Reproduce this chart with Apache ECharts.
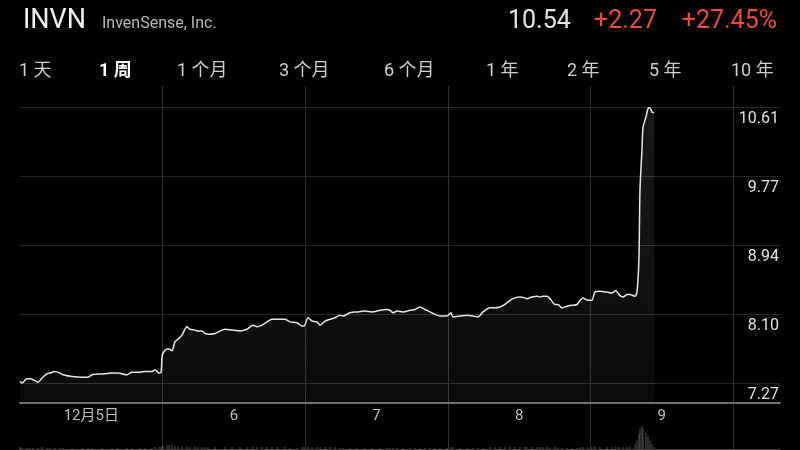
<!DOCTYPE html>
<html>
<head>
<meta charset="utf-8">
<script src="https://cdn.jsdelivr.net/npm/echarts@6/dist/echarts.min.js"></script>
<style>
html,body{margin:0;padding:0;background:#000;}
#c{width:800px;height:450px;}
</style>
</head>
<body>
<div id="c"></div>
<script>
// ---- data ----
const symbol = 'INVN';
const companyName = 'InvenSense, Inc.';
const lastPrice = '10.54';
const change = '+2.27';
const changePct = '+27.45%';
const tabs = ['1 天', '1 周', '1 个月', '3 个月', '6 个月', '1 年', '2 年', '5 年', '10 年'];
const activeTab = 1;
const dayLabels = ['12月5日', '6', '7', '8', '9'];
const yTickLabels = ['7.27', '8.10', '8.94', '9.77', '10.61'];
// time in trading days since 12/5 open
const times = [0,0.014,0.049,0.070,0.091,0.126,0.154,0.189,0.210,0.245,
0.281,0.302,0.365,0.435,0.477,0.505,0.575,0.645,0.687,0.750,
0.785,0.842,0.877,0.926,0.947,0.975,0.989,0.996,1.003,1.031,
1.045,1.066,1.087,1.108,1.136,1.171,1.192,1.227,1.248,1.276,
1.297,1.318,1.367,1.438,1.487,1.543,1.592,1.634,1.662,1.697,
1.732,1.767,1.809,1.858,1.893,1.943,1.978,1.992,2.020,2.048,
2.083,2.104,2.139,2.174,2.209,2.244,2.265,2.314,2.363,2.419,
2.468,2.525,2.574,2.595,2.616,2.644,2.686,2.735,2.770,2.805,
2.840,2.875,2.910,2.945,2.994,3.022,3.036,3.086,3.135,3.177,
3.212,3.247,3.296,3.331,3.366,3.401,3.436,3.471,3.506,3.541,
3.555,3.590,3.626,3.647,3.668,3.696,3.717,3.752,3.773,3.801,
3.836,3.871,3.906,3.927,3.948,3.983,4.011,4.032,4.067,4.116,
4.151,4.179,4.200,4.229,4.257,4.278,4.313,4.327,4.341,4.348,
4.362,4.369,4.390,4.404,4.418,4.432,4.446];
const prices = [7.29,7.27,7.32,7.32,7.31,7.28,7.33,7.38,7.39,7.41,
7.39,7.37,7.35,7.34,7.34,7.37,7.38,7.39,7.39,7.37,
7.40,7.40,7.41,7.41,7.43,7.39,7.40,7.58,7.63,7.68,
7.68,7.66,7.77,7.80,7.85,7.95,7.92,7.91,7.90,7.90,
7.87,7.86,7.87,7.92,7.91,7.90,7.92,7.97,7.95,7.97,
8.01,8.04,8.04,8.04,8.01,8.00,7.96,7.96,8.06,8.02,
8.01,7.97,8.02,8.04,8.06,8.09,8.08,8.12,8.13,8.14,
8.13,8.15,8.16,8.15,8.12,8.14,8.13,8.15,8.16,8.19,
8.16,8.13,8.10,8.08,8.08,8.12,8.07,8.08,8.09,8.08,
8.07,8.13,8.18,8.18,8.19,8.22,8.27,8.30,8.31,8.30,
8.29,8.31,8.32,8.31,8.32,8.32,8.29,8.22,8.22,8.18,
8.20,8.21,8.22,8.27,8.30,8.27,8.27,8.37,8.38,8.37,
8.36,8.39,8.34,8.31,8.34,8.34,8.32,8.37,8.79,9.61,
10.09,10.36,10.49,10.59,10.60,10.55,10.54];
const volumes = [3,2,2,2,2,2,3,2,2,2,
2,2,2,2,2,2,2,2,2,2,
2,2,2,2,3,3,3,4,5,5,
5,5,4,4,4,4,3,4,3,3,
3,3,3,3,3,3,3,3,3,3,
3,3,3,3,2,2,3,3,4,3,
3,3,3,3,3,2,2,2,2,2,
2,2,2,2,2,2,2,2,2,2,
2,2,2,2,2,3,3,2,2,2,
2,2,3,3,3,3,4,3,3,3,
3,3,3,3,3,3,2,3,2,2,
2,2,2,3,3,3,3,4,3,3,
3,3,3,3,3,4,6,10,17,22,
25,22,18,14,10,6,3];

// ---- chart ----
const FONT = 'Roboto, "Noto Sans CJK SC", "Noto Sans", sans-serif';
const X_MAX = 5.33;
const Y_MIN = 7.27, Y_STEP = 0.835, Y_MAX = 10.61;
const AREA_BASE = 7.028;

const priceData = times.map((t, i) => [t, prices[i]]);
const volData = times.map((t, i) => [t, volumes[i]]);

const tabLeft = [20, 100, 178, 280, 385, 487, 568, 650, 732];
const titles = [
  {text: symbol, left: 18, top: 3, textStyle: {color: '#f2f2f2', fontSize: 27, fontWeight: 'normal', fontFamily: FONT}},
  {text: companyName, left: 97, top: 11, textStyle: {color: '#b8b8b8', fontSize: 16, fontWeight: 'normal', fontFamily: FONT}},
  {text: lastPrice, left: 503, top: 4, textStyle: {color: '#e6e6e6', fontSize: 25, fontWeight: 'normal', fontFamily: FONT}},
  {text: change, left: 589, top: 4, textStyle: {color: '#ef4a3f', fontSize: 25, fontWeight: 'normal', fontFamily: FONT}},
  {text: changePct, right: 18, top: 4, textStyle: {color: '#ef4a3f', fontSize: 25, fontWeight: 'normal', fontFamily: FONT}}
];
tabs.forEach((t, i) => {
  titles.push({text: t, left: tabLeft[i] - 1, top: 63, padding: [0,0,0,0],
    textStyle: {color: i === activeTab ? '#ffffff' : '#cfcfcf', fontSize: 18,
      fontWeight: i === activeTab ? 'bold' : 'normal', fontFamily: FONT}});
});

const hidden = {show: false};
const option = {
  backgroundColor: '#000',
  animation: false,
  title: titles,
  grid: [
    {left: 20, right: 20, top: 107, height: 276},   // price
    {left: 20, right: 20, top: 86, height: 364},    // frame + vertical lines
    {left: 20, right: 20, top: 383, height: 20},    // bottom axis line
    {left: 20, width: 713, top: 383, height: 20},   // day labels
    {left: 20, right: 20, top: 425, height: 25}     // volume
  ],
  xAxis: [
    {gridIndex: 0, type: 'value', min: 0, max: X_MAX, show: false},
    {gridIndex: 1, type: 'value', min: 0, max: X_MAX, interval: 1, position: 'top',
      axisLine: {show: true, lineStyle: {color: '#5a5a5a', width: 1.5}},
      axisTick: hidden, axisLabel: hidden,
      splitLine: {show: true, showMinLine: false, showMaxLine: false, lineStyle: {color: '#303030', width: 1}}},
    {gridIndex: 2, type: 'value', min: 0, max: X_MAX, position: 'bottom',
      axisLine: {show: true, lineStyle: {color: '#6e6e6e', width: 2}},
      axisTick: hidden, axisLabel: hidden, splitLine: hidden},
    {gridIndex: 3, type: 'category', data: dayLabels, position: 'bottom',
      axisLine: hidden, axisTick: hidden, splitLine: hidden,
      axisLabel: {color: '#bdbdbd', fontSize: 15, fontFamily: FONT, margin: 6}},
    {gridIndex: 4, type: 'value', min: 0, max: X_MAX, show: false}
  ],
  yAxis: [
    {gridIndex: 0, type: 'value', min: Y_MIN, max: Y_MAX, interval: Y_STEP, position: 'right',
      axisLine: hidden, axisTick: hidden,
      axisLabel: {inside: true, margin: 1, color: '#e0e0e0', fontSize: 16, fontFamily: FONT,
        verticalAlign: 'top', padding: [4, 0, 0, 0],
        formatter: (v, i) => yTickLabels[i] !== undefined ? yTickLabels[i] : ''},
      splitLine: {show: true, lineStyle: {color: '#262626', width: 1}}},
    {gridIndex: 1, type: 'value', show: false, min: 0, max: 1},
    {gridIndex: 2, type: 'value', show: false, min: 0, max: 1},
    {gridIndex: 3, type: 'value', show: false, min: 0, max: 1},
    {gridIndex: 4, type: 'value', show: false, min: 0, max: 26}
  ],
  series: [
    {type: 'line', xAxisIndex: 0, yAxisIndex: 0, data: priceData, showSymbol: false,
      smooth: 0.25, clip: false,
      lineStyle: {color: '#e6e6e6', width: 1.5},
      areaStyle: {origin: AREA_BASE,
        color: new echarts.graphic.LinearGradient(0, 0, 0, 1, [
          {offset: 0, color: 'rgba(255,255,255,0.14)'},
          {offset: 1, color: 'rgba(255,255,255,0.06)'}])}},
    {type: 'bar', xAxisIndex: 4, yAxisIndex: 4, data: volData, barWidth: 1,
      itemStyle: {color: '#555555'}}
  ]
};
const chart = echarts.init(document.getElementById('c'), null, {renderer: 'canvas'});
chart.setOption(option);
</script>
</body>
</html>
